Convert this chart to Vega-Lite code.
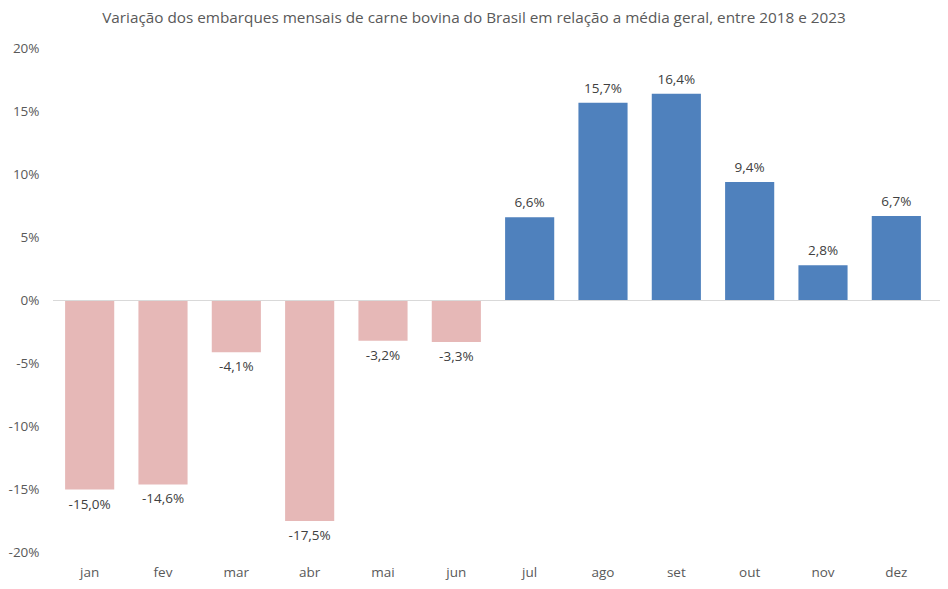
{
  "$schema": "https://vega.github.io/schema/vega-lite/v6.json",
  "width": 880,
  "height": 504,
  "autosize": "none",
  "padding": {"left": 53, "top": 48.5, "right": 15, "bottom": 36.5},
  "background": "white",
  "title": {
    "text": "Variação dos embarques mensais de carne bovina do Brasil em relação a média geral, entre 2018 e 2023",
    "font": "Open Sans",
    "fontSize": 15.3,
    "fontWeight": "normal",
    "color": "#595959",
    "anchor": "middle",
    "dx": -19,
    "offset": 15
  },
  "data": {
    "values": [
      {"mes": "jan", "v": -15.0},
      {"mes": "fev", "v": -14.6},
      {"mes": "mar", "v": -4.1},
      {"mes": "abr", "v": -17.5},
      {"mes": "mai", "v": -3.2},
      {"mes": "jun", "v": -3.3},
      {"mes": "jul", "v": 6.6},
      {"mes": "ago", "v": 15.7},
      {"mes": "set", "v": 16.4},
      {"mes": "out", "v": 9.4},
      {"mes": "nov", "v": 2.8},
      {"mes": "dez", "v": 6.7}
    ]
  },
  "transform": [
    {"calculate": "replace(replace(format(datum.v, '.1f'), '.', ','), '\u2212', '-') + '%'", "as": "label"},
    {"calculate": "datum.v / 100", "as": "p"}
  ],
  "encoding": {
    "x": {
      "field": "mes",
      "type": "nominal",
      "sort": null,
      "scale": {"paddingInner": 0.33, "paddingOuter": 0.165},
      "axis": {
        "title": null,
        "domain": false,
        "ticks": false,
        "labelAngle": 0,
        "labelPadding": 13,
        "labelFont": "Open Sans",
        "labelFontSize": 13.5,
        "labelColor": "#595959"
      }
    },
    "y": {
      "field": "p",
      "type": "quantitative",
      "scale": {"domain": [-0.2, 0.2], "nice": false},
      "axis": {
        "title": null,
        "values": [-0.2, -0.15, -0.1, -0.05, 0, 0.05, 0.1, 0.15, 0.2],
        "labelExpr": "replace(format(datum.value, '.0%'), '\u2212', '-')",
        "grid": false,
        "domain": false,
        "ticks": false,
        "labelPadding": 14,
        "labelFont": "Open Sans",
        "labelFontSize": 13.5,
        "labelColor": "#595959"
      }
    }
  },
  "layer": [
    {
      "mark": {"type": "bar"},
      "encoding": {
        "color": {
          "condition": {"test": "datum.v < 0", "value": "#E6B8B7"},
          "value": "#4F81BD"
        }
      }
    },
    {
      "mark": {"type": "rule", "color": "#D9D9D9", "strokeWidth": 1},
      "encoding": {
        "x": {"value": 0},
        "x2": {"value": 887},
        "y": {"datum": 0}
      }
    },
    {
      "transform": [{"filter": "datum.v >= 0"}],
      "mark": {"type": "text", "baseline": "bottom", "dy": -7, "font": "Open Sans", "fontSize": 13.5, "color": "#404040"},
      "encoding": {"text": {"field": "label"}}
    },
    {
      "transform": [{"filter": "datum.v < 0"}],
      "mark": {"type": "text", "baseline": "top", "dy": 8, "font": "Open Sans", "fontSize": 13.5, "color": "#404040"},
      "encoding": {"text": {"field": "label"}}
    }
  ],
  "config": {"view": {"stroke": null}}
}
